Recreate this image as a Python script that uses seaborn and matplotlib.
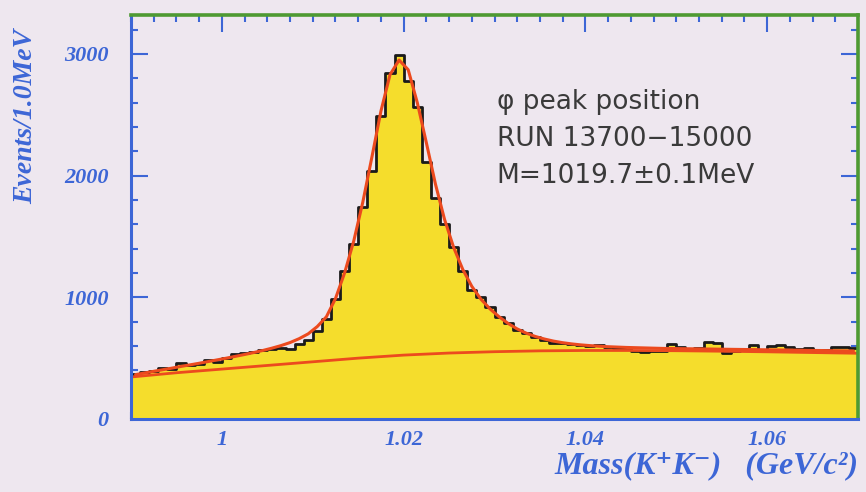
import matplotlib
matplotlib.use("Agg")
import matplotlib.pyplot as plt
import numpy as np
import pandas as pd
import seaborn as sns
from matplotlib.ticker import MultipleLocator
from matplotlib.font_manager import FontProperties

# K+K- invariant mass, 1 MeV bins from 0.990 to 1.070 GeV
bin_lo, bin_hi, bin_w = 0.990, 1.070, 0.001
counts = [370, 385, 395, 420, 410, 462, 440, 450, 485, 470,
          505, 530, 540, 548, 565, 575, 585, 578, 620, 650,
          720, 820, 990, 1220, 1440, 1740, 2040, 2490, 2840, 2990,
          2780, 2560, 2110, 1820, 1600, 1410, 1220, 1060, 1000, 920,
          840, 790, 730, 705, 672, 648, 625, 625, 615, 610,
          600, 605, 590, 580, 585, 560, 550, 555, 560, 620,
          590, 575, 580, 630, 625, 540, 560, 575, 605, 560,
          600, 605, 595, 575, 580, 560, 565, 590, 595, 580]

# fitted total curve at bin centres
fit_total = [365, 378, 392, 405, 418, 432, 445, 458, 472, 486,
             500, 515, 530, 546, 563, 582, 603, 628, 660, 700,
             760, 840, 990, 1200, 1460, 1780, 2150, 2530, 2830, 2950,
             2870, 2600, 2270, 1930, 1640, 1410, 1230, 1090, 985, 905,
             840, 785, 740, 705, 678, 657, 640, 627, 617, 609,
             603, 598, 594, 591, 588, 586, 584, 582, 580, 579,
             578, 577, 576, 575, 574, 573, 572, 571, 570, 569,
             568, 567, 566, 565, 564, 563, 562, 561, 560, 559]

# fitted background curve
bg_mass = [0.990, 0.995, 1.000, 1.005, 1.010, 1.015, 1.020, 1.025, 1.030,
           1.035, 1.040, 1.045, 1.050, 1.055, 1.060, 1.065, 1.070]
bg_vals = [345, 380, 410, 440, 470, 500, 525, 542, 553,
           560, 563, 563, 561, 557, 552, 546, 540]

centers = bin_lo + bin_w * (np.arange(len(counts)) + 0.5)
df = pd.DataFrame({"mass": centers, "events": counts, "fit": fit_total})
bg = pd.DataFrame({"mass": bg_mass, "events": bg_vals})

bgcol = "#EEE7EF"
blue = "#3D66D6"
green = "#4E9A32"
yellow = "#F5DD2C"
red = "#EC4A1E"

sns.set_style("ticks")
fig = plt.figure(figsize=(8.66, 4.92), dpi=100, facecolor=bgcol)
ax = fig.add_axes([0.1513, 0.1484, 0.8395, 0.8211])
ax.set_facecolor(bgcol)

sns.histplot(data=df, x="mass", weights="events", binwidth=bin_w, binrange=(bin_lo, bin_hi),
             element="step", fill=True, color=yellow, alpha=1, linewidth=0, ax=ax)
sns.histplot(data=df, x="mass", weights="events", binwidth=bin_w, binrange=(bin_lo, bin_hi),
             element="step", fill=False, color="#1a1a1a", linewidth=2.0, ax=ax)
sns.lineplot(data=bg, x="mass", y="events", color=red, linewidth=2.0, ax=ax)
sns.lineplot(data=df, x="mass", y="fit", color=red, linewidth=2.2, ax=ax)

ax.set_xlim(0.99, 1.07)
ax.set_ylim(0, 3320)
ax.xaxis.set_minor_locator(MultipleLocator(0.0025))
ax.yaxis.set_minor_locator(MultipleLocator(200))
ax.set_xticks([1.0, 1.02, 1.04, 1.06])
ax.set_xticklabels(["1", "1.02", "1.04", "1.06"])
ax.set_yticks([0, 1000, 2000, 3000])
ax.set_yticklabels(["0", "1000", "2000", "3000"])

tickfont = FontProperties(family="Liberation Serif", weight="bold", style="italic", size=16)
for lab in ax.get_xticklabels() + ax.get_yticklabels():
    lab.set_fontproperties(tickfont)
    lab.set_color(blue)

ax.tick_params(which="both", direction="in", top=True, right=True, colors=blue, width=1.5)
ax.tick_params(which="major", length=12)
ax.tick_params(which="minor", length=5)
ax.tick_params(axis="y", which="major", pad=16)
ax.tick_params(axis="x", which="major", pad=8)

for side in ["left", "bottom"]:
    ax.spines[side].set_color(blue)
    ax.spines[side].set_linewidth(2.2)
for side in ["top", "right"]:
    ax.spines[side].set_color(green)
    ax.spines[side].set_linewidth(2.6)

ax.set_ylabel("Events/1.0MeV", family=["Liberation Serif", "DejaVu Serif"], weight="bold",
              style="italic", size=20, color=blue)
ax.yaxis.set_label_coords(-0.128, 0.75)
ax.set_xlabel("Mass(K\u207aK\u207b)   (GeV/c\u00b2)", family=["Liberation Serif", "DejaVu Serif"],
              weight="bold", style="italic", size=23, color=blue, loc="right", labelpad=1)

ax.text(0.503, 0.692, "\u03c6 peak position\nRUN 13700\u221215000\nM=1019.7\u00b10.1MeV",
        transform=ax.transAxes, family=["DejaVu Sans"], size=19,
        color="#3a3a3a", linespacing=1.55, va="center", ha="left")

fig.savefig("out.png", dpi=100, facecolor=bgcol)
